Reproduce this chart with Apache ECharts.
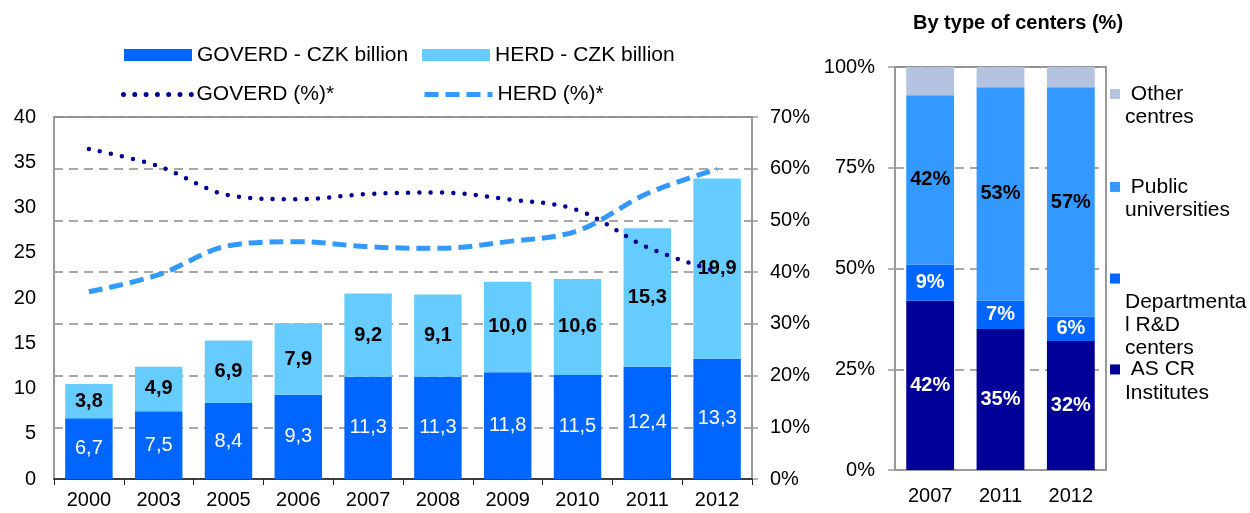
<!DOCTYPE html>
<html>
<head>
<meta charset="utf-8">
<script src="https://cdn.jsdelivr.net/npm/echarts@6/dist/echarts.min.js"></script>
<style>
html, body { margin: 0; padding: 0; background: #fff; }
#chart { width: 1250px; height: 513px; }
</style>
</head>
<body>
<div id="chart"></div>
<script>
// left chart: R&D spending by sector
const years = ['2000', '2003', '2005', '2006', '2007', '2008', '2009', '2010', '2011', '2012']
const goverdCzk = [6.7, 7.5, 8.4, 9.3, 11.3, 11.3, 11.8, 11.5, 12.4, 13.3]
const herdCzk = [3.8, 4.9, 6.9, 7.9, 9.2, 9.1, 10.0, 10.6, 15.3, 19.9]
const goverdPct = [63.8, 60.5, 54.9, 54.1, 55.1, 55.4, 54.1, 52.0, 44.8, 40.1]
const herdPct = [36.2, 39.5, 45.1, 45.9, 44.9, 44.6, 45.9, 48.0, 55.2, 59.9]

// right chart: by type of centers (%)
const typeYears = ['2007', '2011', '2012']
const asCr = [42, 35, 32]
const departmental = [9, 7, 6]
const publicUni = [42, 53, 57]
const otherCentres = [7, 5, 5]

const FONT = 'Liberation Sans, Arial, sans-serif'
const GRID_GRAY = '#8c8c8c'
const AXIS_GRAY = '#999999'

function czk(p) {
	return p.value.toFixed(1).replace('.', ',')
}

function pct(p) {
	return p.value + '%'
}

// one legend component per item so each can sit where the original put it
function legendItem(name, left, top, opts) {
	return Object.assign(
		{
			data: [name],
			left: left,
			top: top,
			padding: 0,
			selectedMode: false,
			itemWidth: 68,
			itemHeight: 12,
			textStyle: {
				fontFamily: FONT,
				fontSize: 21,
				color: '#000',
				lineHeight: 22,
			},
		},
		opts || {}
	)
}

// side legend: wrapped text with the square on the first line
function sideLegend(name, top, lines) {
	return legendItem(name, 1110, top, {
		icon: 'rect',
		itemWidth: 10,
		itemHeight: 10,
		formatter: function () {
			// leading blank lines push the first line level with the square
			return '\n'.repeat(lines.length - 1) + lines.join('\n')
		},
		textStyle: {
			fontFamily: FONT,
			fontSize: 21,
			color: '#000',
			lineHeight: 23.3,
		},
	})
}

const lineLegendExtra = {
	lineStyle: { width: 5 },
	itemStyle: { color: 'transparent', borderColor: 'transparent', borderWidth: 0 },
}

const chart = echarts.init(document.getElementById('chart'))

chart.setOption({
	backgroundColor: '#fff',
	animation: false,
	title: {
		text: 'By type of centers (%)',
		left: 913,
		top: 13,
		padding: 0,
		textStyle: {
			fontFamily: FONT,
			fontSize: 20,
			fontWeight: 'bold',
			color: '#000',
		},
	},
	legend: [
		legendItem('GOVERD - CZK billion', 124, 44, { icon: 'rect' }),
		legendItem('HERD - CZK billion', 422, 44, { icon: 'rect' }),
		legendItem('GOVERD (%)*', 121, 83.5, lineLegendExtra),
		legendItem('HERD (%)*', 422, 83.5, lineLegendExtra),
		sideLegend('Other centres', 59, [' Other', 'centres']),
		sideLegend('Public universities', 152, [' Public', 'universities']),
		sideLegend('Departmental R&D centers', 197, [' ', 'Departmenta', 'l R&D', 'centers']),
		sideLegend('AS CR Institutes', 334.5, [' AS CR', 'Institutes']),
	],
	grid: [
		{
			left: 54,
			right: 498,
			top: 117,
			bottom: 34,
			show: true,
			borderColor: AXIS_GRAY,
			borderWidth: 2,
		},
		{
			left: 895,
			right: 144,
			top: 67,
			bottom: 43,
			show: true,
			borderColor: AXIS_GRAY,
			borderWidth: 2,
		},
	],
	xAxis: [
		{
			type: 'category',
			gridIndex: 0,
			data: years,
			axisLine: { lineStyle: { color: '#222', width: 1.5 } },
			axisTick: { show: true, length: 6, lineStyle: { color: '#222' } },
			axisLabel: {
				fontFamily: FONT,
				fontSize: 20,
				color: '#000',
				margin: 11,
			},
		},
		{
			type: 'category',
			gridIndex: 1,
			data: typeYears,
			axisLine: { lineStyle: { color: AXIS_GRAY, width: 2 } },
			axisTick: { show: false },
			axisLabel: {
				fontFamily: FONT,
				fontSize: 20,
				color: '#000',
				margin: 16,
			},
		},
	],
	yAxis: [
		{
			type: 'value',
			gridIndex: 0,
			min: 0,
			max: 40,
			interval: 5,
			axisLine: { show: true, lineStyle: { color: AXIS_GRAY, width: 2 } },
			axisTick: { show: false },
			splitLine: { show: false },
			axisLabel: {
				fontFamily: FONT,
				fontSize: 20,
				color: '#000',
				margin: 18,
			},
		},
		{
			type: 'value',
			gridIndex: 0,
			position: 'right',
			min: 0,
			max: 70,
			interval: 10,
			axisLine: { show: true, lineStyle: { color: AXIS_GRAY, width: 2 } },
			axisTick: { show: true, length: 6, lineStyle: { color: AXIS_GRAY, width: 1.5 } },
			splitLine: {
				show: true,
				lineStyle: { color: GRID_GRAY, width: 1.5, type: [9, 6] },
			},
			axisLabel: {
				fontFamily: FONT,
				fontSize: 20,
				color: '#000',
				margin: 18,
				formatter: '{value}%',
			},
		},
		{
			type: 'value',
			gridIndex: 1,
			min: 0,
			max: 100,
			interval: 25,
			axisLine: { show: true, lineStyle: { color: AXIS_GRAY, width: 2 } },
			axisTick: { show: true, length: 7, lineStyle: { color: AXIS_GRAY, width: 1.5 } },
			splitLine: {
				show: true,
				lineStyle: { color: GRID_GRAY, width: 1.5, type: [9, 6] },
			},
			axisLabel: {
				fontFamily: FONT,
				fontSize: 20,
				color: '#000',
				margin: 20,
				formatter: '{value}%',
			},
		},
	],
	series: [
		{
			name: 'GOVERD - CZK billion',
			type: 'bar',
			stack: 'czk',
			xAxisIndex: 0,
			yAxisIndex: 0,
			barWidth: '68%',
			data: goverdCzk,
			itemStyle: { color: '#0066ff' },
			label: {
				show: true,
				position: 'inside',
				formatter: czk,
				fontFamily: FONT,
				fontSize: 20,
				color: '#fff',
			},
		},
		{
			name: 'HERD - CZK billion',
			type: 'bar',
			stack: 'czk',
			xAxisIndex: 0,
			yAxisIndex: 0,
			barWidth: '68%',
			data: herdCzk,
			itemStyle: { color: '#66ccff' },
			label: {
				show: true,
				position: 'inside',
				formatter: czk,
				fontFamily: FONT,
				fontSize: 20,
				fontWeight: 'bold',
				color: '#000',
			},
		},
		{
			name: 'GOVERD (%)*',
			type: 'line',
			xAxisIndex: 0,
			yAxisIndex: 1,
			data: goverdPct,
			smooth: 0.35,
			symbol: 'none',
			z: 5,
			lineStyle: { color: '#000099', width: 4.5, type: [0, 11.3], cap: 'round' },
			itemStyle: { color: '#000099' },
		},
		{
			name: 'HERD (%)*',
			type: 'line',
			xAxisIndex: 0,
			yAxisIndex: 1,
			data: herdPct,
			smooth: 0.35,
			symbol: 'none',
			z: 5,
			lineStyle: { color: '#3399ff', width: 5, type: [14, 7] },
			itemStyle: { color: '#3399ff' },
		},
		{
			name: 'AS CR Institutes',
			type: 'bar',
			stack: 'type',
			xAxisIndex: 1,
			yAxisIndex: 2,
			barWidth: '68%',
			data: asCr,
			itemStyle: { color: '#000099' },
			label: {
				show: true,
				position: 'inside',
				formatter: pct,
				fontFamily: FONT,
				fontSize: 20,
				fontWeight: 'bold',
				color: '#fff',
			},
		},
		{
			name: 'Departmental R&D centers',
			type: 'bar',
			stack: 'type',
			xAxisIndex: 1,
			yAxisIndex: 2,
			barWidth: '68%',
			data: departmental,
			itemStyle: { color: '#0066ff' },
			label: {
				show: true,
				position: 'inside',
				formatter: pct,
				fontFamily: FONT,
				fontSize: 20,
				fontWeight: 'bold',
				color: '#fff',
			},
		},
		{
			name: 'Public universities',
			type: 'bar',
			stack: 'type',
			xAxisIndex: 1,
			yAxisIndex: 2,
			barWidth: '68%',
			data: publicUni,
			itemStyle: { color: '#3399ff' },
			label: {
				show: true,
				position: 'inside',
				formatter: pct,
				fontFamily: FONT,
				fontSize: 20,
				fontWeight: 'bold',
				color: '#000',
			},
		},
		{
			name: 'Other centres',
			type: 'bar',
			stack: 'type',
			xAxisIndex: 1,
			yAxisIndex: 2,
			barWidth: '68%',
			data: otherCentres,
			itemStyle: { color: '#b4c3e0' },
		},
	],
})
</script>
</body>
</html>
